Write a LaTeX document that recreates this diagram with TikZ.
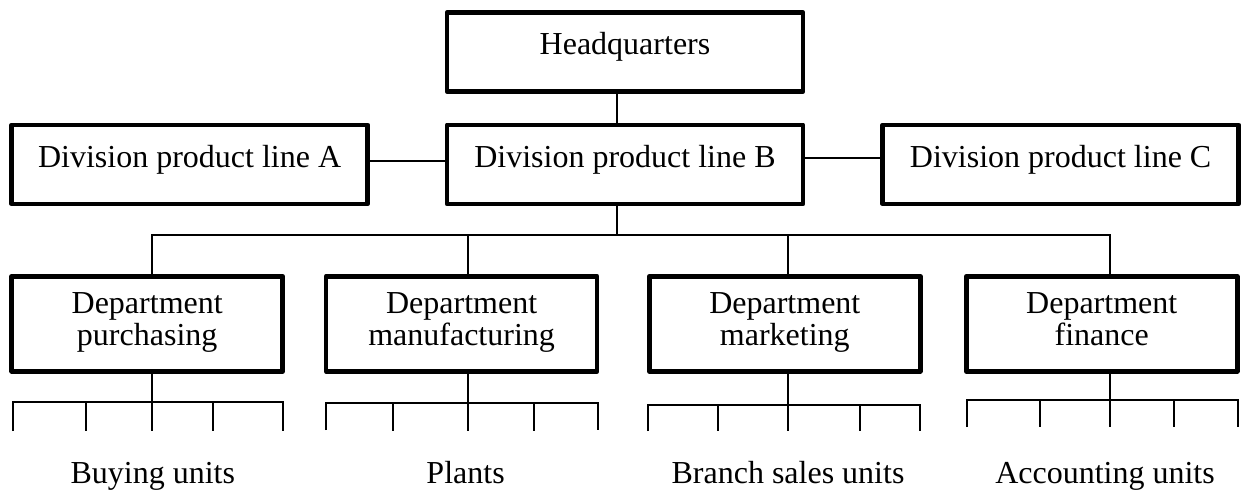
\documentclass[tikz,border=0pt]{standalone}
\usepackage{fontspec}
\setmainfont{Liberation Serif}
\begin{document}
\begin{tikzpicture}[x=1pt,y=-1pt,
  unit/.style={draw, line width=4.6pt, line join=round, inner sep=0pt,
    font=\fontsize{32}{32}\selectfont},
  topbox/.style={unit, minimum width=356pt, minimum height=79pt,
    text height=22pt, text depth=16pt},
  deptbox/.style={unit, minimum width=271pt, minimum height=95pt, align=center,
    execute at begin node={\rule{0pt}{29pt}},
    execute at end node={\rule[-10pt]{0pt}{10pt}}},
  link/.style={line width=2pt},
  tag/.style={font=\fontsize{32}{32}\selectfont, anchor=base, inner sep=0pt}]
\useasboundingbox (0,0) rectangle (1241,495);

% boxes
\node[topbox] (hq)   at (625,52)      {Headquarters};
\node[topbox] (divA) at (189.6,164.4) {Division product line A};
\node[topbox] (divB) at (625,164.4)   {Division product line B};
\node[topbox] (divC) at (1060.6,164.4) {Division product line C};

\node[deptbox] (d1) at (147.2,323.8)  {Department\\purchasing};
\node[deptbox] (d2) at (461.6,323.8)  {Department\\manufacturing};
\node[deptbox] (d3) at (784.8,323.8)  {Department\\marketing};
\node[deptbox] (d4) at (1101.7,323.8) {Department\\finance};

% trunk and main bus
\coordinate (trunk) at (616.5,235);
\coordinate (t1) at (152.3,235);
\coordinate (t2) at (467.8,235);
\coordinate (t3) at (787.5,235);
\coordinate (t4) at (1110,235);

\draw[link] (hq.south -| trunk) -- (divB.north -| trunk);
\draw[link] ([yshift=3pt]divA.east) -- ([yshift=3pt]divB.west);
\draw[link] ([yshift=6pt]divB.east) -- ([yshift=6pt]divC.west);
\draw[link] (divB.south -| trunk) -- (trunk);
\draw[link] (d1.north -| t1) -- (t1) -- (t4) -- (d4.north -| t4);
\draw[link] (t2) -- (d2.north -| t2);
\draw[link] (t3) -- (d3.north -| t3);

% sub-buses under each department
\coordinate (s1) at (152.3,402.3);
\coordinate (s2) at (467.8,403);
\coordinate (s3) at (787.5,405);
\coordinate (s4) at (1110,400);

\draw[link] (d1.south -| s1) -- (s1);
\draw[link] (12.7,431) -- (12.7,402.3) -- (283.3,402.3) -- (283.3,431);
\foreach \x in {86,152.3,213.3} \draw[link] (\x,402.3) -- (\x,431);

\draw[link] (d2.south -| s2) -- (s2);
\draw[link] (326,430) -- (326,403) -- (597.9,403) -- (597.9,430);
\foreach \x in {392.6,467.8,533.8} \draw[link] (\x,403) -- (\x,431);

\draw[link] (d3.south -| s3) -- (s3);
\draw[link] (647.7,431) -- (647.7,405) -- (920.2,405) -- (920.2,431);
\foreach \x in {717.8,787.5,859.6} \draw[link] (\x,405) -- (\x,431);

\draw[link] (d4.south -| s4) -- (s4);
\draw[link] (966.7,427) -- (966.7,400) -- (1237.7,400) -- (1237.7,427);
\foreach \x in {1040,1110,1174.3} \draw[link] (\x,400) -- (\x,427);

% unit labels
\node[tag] (u1) at (152.8,483) {Buying units};
\node[tag] (u2) at (465.6,483) {Plants};
\node[tag] (u3) at (788,483)   {Branch sales units};
\node[tag] (u4) at (1105,483)  {Accounting units};
\end{tikzpicture}
\end{document}
